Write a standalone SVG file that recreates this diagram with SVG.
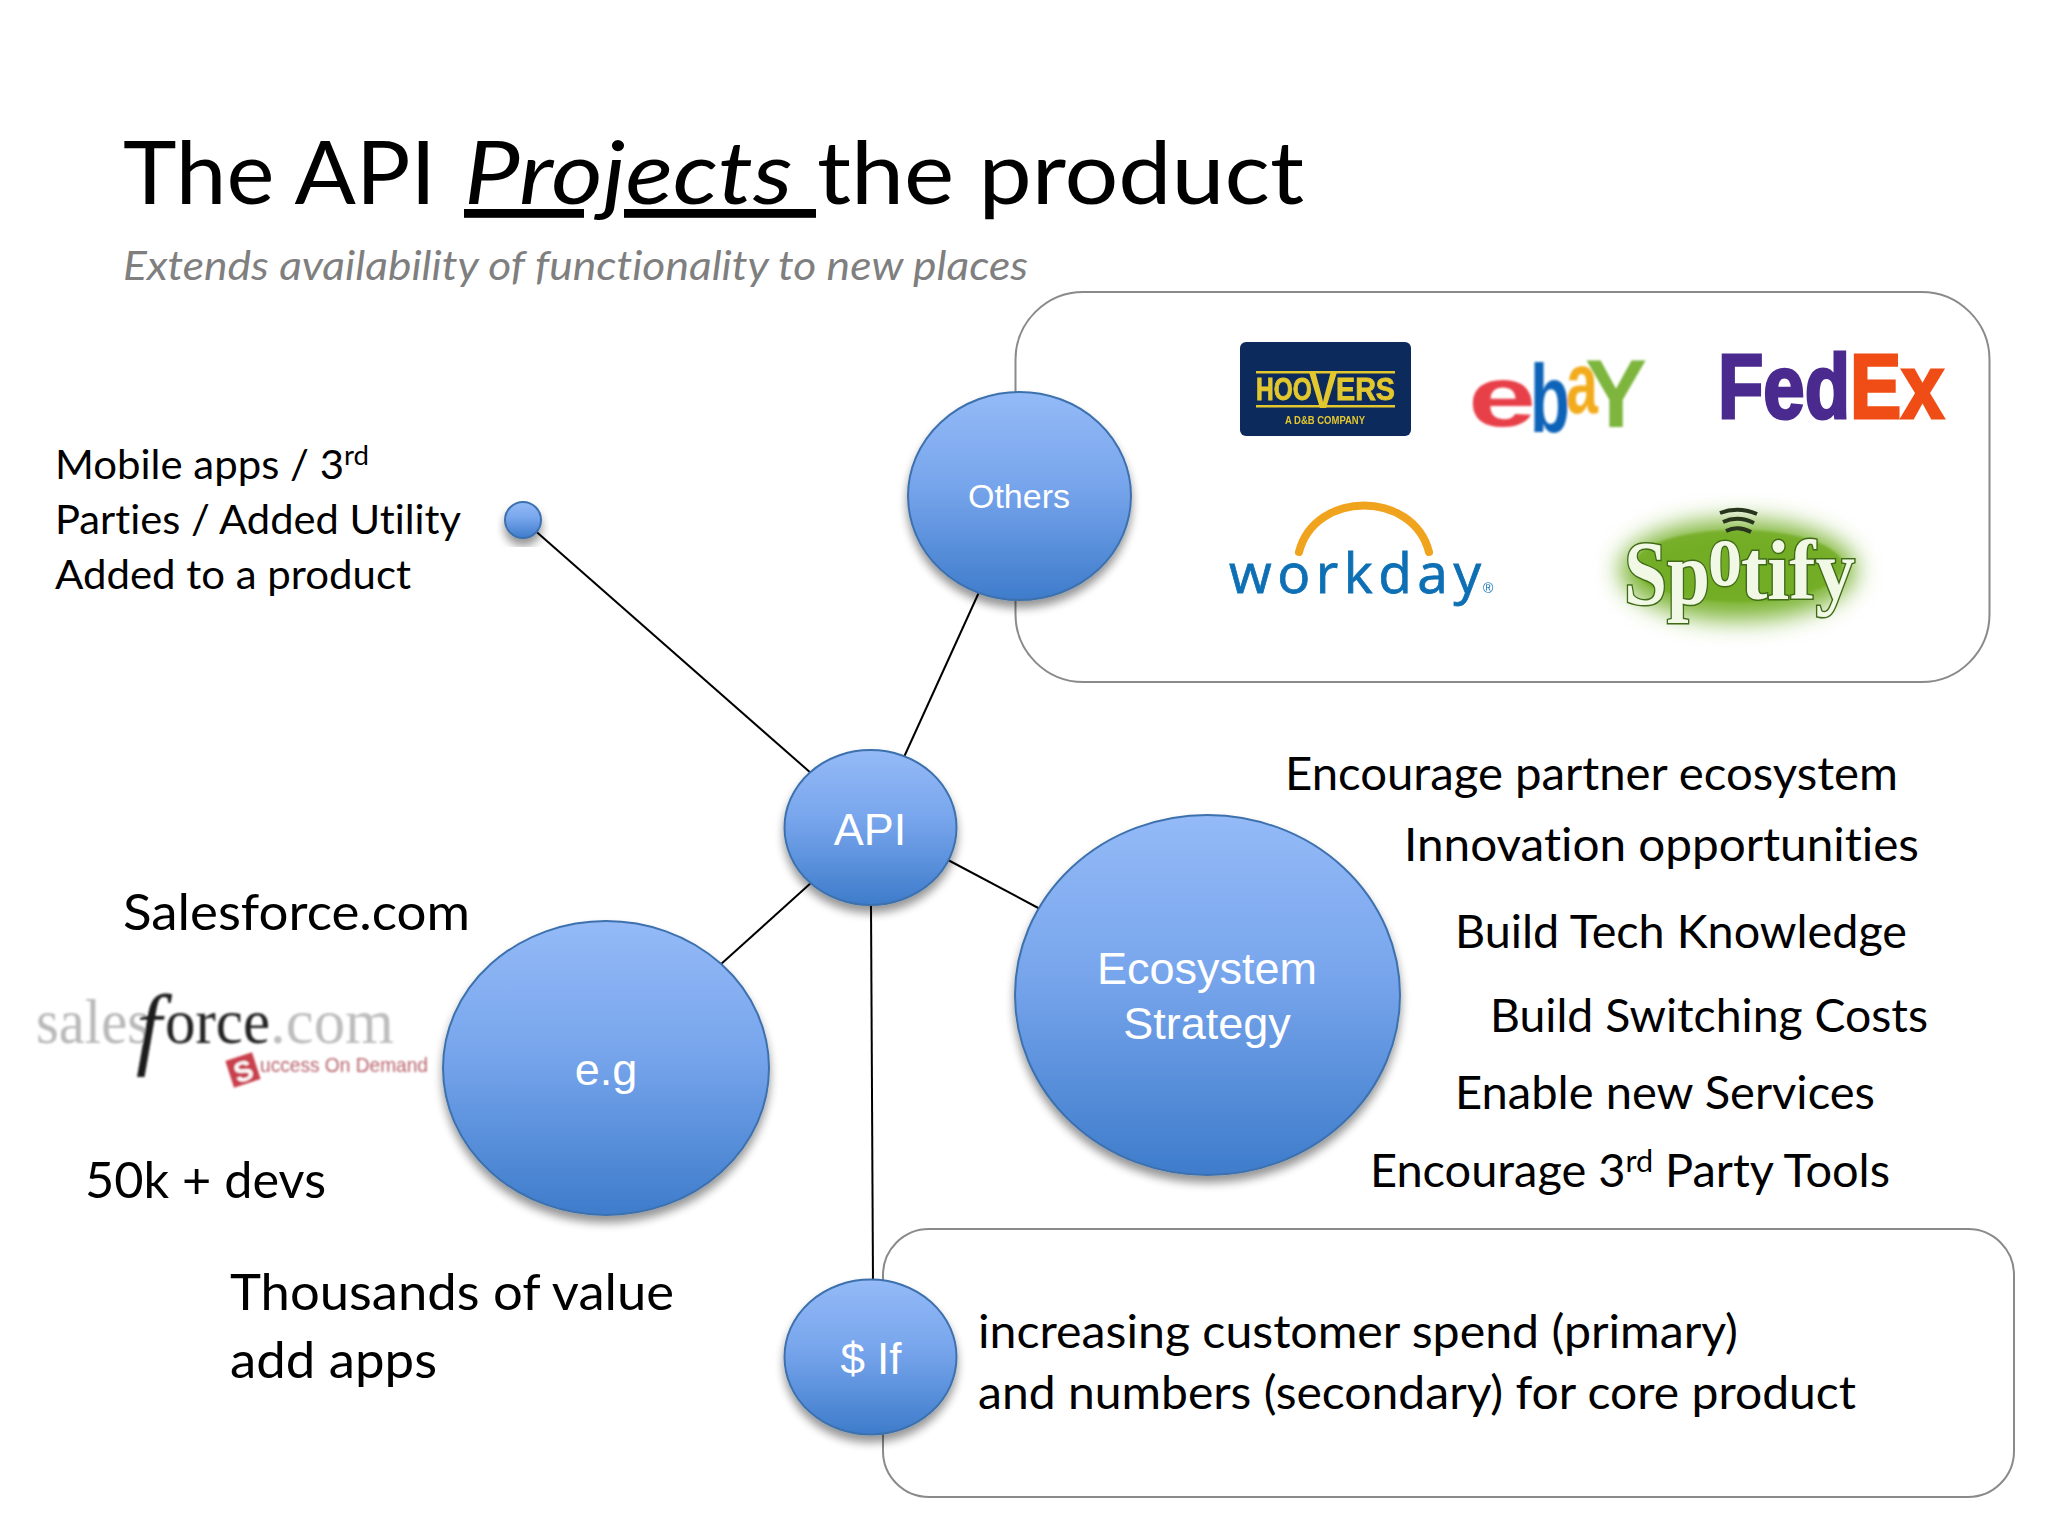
<svg xmlns="http://www.w3.org/2000/svg" width="2048" height="1536" viewBox="0 0 2048 1536">
<defs>
<linearGradient id="ball" x1="0" y1="0" x2="0" y2="1">
<stop offset="0" stop-color="#94baf7"/><stop offset="0.45" stop-color="#77a5ec"/><stop offset="1" stop-color="#3e7ccb"/>
</linearGradient>
<filter id="shadow" x="-20%" y="-20%" width="140%" height="145%">
<feGaussianBlur in="SourceAlpha" stdDeviation="5"/><feOffset dy="7"/>
<feComponentTransfer><feFuncA type="linear" slope="0.42"/></feComponentTransfer>
<feMerge><feMergeNode/><feMergeNode in="SourceGraphic"/></feMerge>
</filter>
<filter id="soft" x="-10%" y="-10%" width="120%" height="120%"><feGaussianBlur stdDeviation="0.8"/></filter>
<filter id="softer" x="-10%" y="-10%" width="120%" height="120%"><feGaussianBlur stdDeviation="0.5"/></filter>
<filter id="glow" x="-30%" y="-50%" width="160%" height="200%"><feGaussianBlur stdDeviation="12"/></filter>
<style>
text{font-family:"Lato","Noto Sans",sans-serif;fill:#000;font-variant-ligatures:none}
.lbl{font-family:"Liberation Sans",Arial,sans-serif;fill:#fff;text-anchor:middle}
.node{fill:url(#ball);stroke:#3d71ad;stroke-width:2;filter:url(#shadow)}
.box{fill:#fff;stroke:#8a8a8a;stroke-width:2}
.conn{stroke:#000;stroke-width:2;fill:none}
.t42{font-size:41px}
.t47{font-size:46px}
.t52{font-size:50px}
.sup{font-size:27px}
.serif{font-family:"Liberation Serif",serif}
.sans{font-family:"Liberation Sans",sans-serif}
.spot{font-family:"Liberation Serif",serif;font-weight:bold;fill:#f1f8e6;stroke:#3f6b17;stroke-width:3;paint-order:stroke}
</style>
</defs>
<rect width="2048" height="1536" fill="#fff"/>

<g id="title" font-size="88">
<text x="123" y="204" textLength="313" lengthAdjust="spacingAndGlyphs">The API</text>
<text x="464" y="204" font-style="italic" text-decoration="underline" textLength="352" lengthAdjust="spacingAndGlyphs" xml:space="preserve">Projects </text>
<text x="817" y="204" textLength="487" lengthAdjust="spacingAndGlyphs">the product</text>
</g>
<text id="subtitle" x="123" y="280" font-size="41" font-style="italic" style="fill:#7f7f7f" textLength="905" lengthAdjust="spacingAndGlyphs">Extends availability of functionality to new places</text>

<rect id="box-logos" class="box" x="1015.500" y="292" width="974" height="390" rx="68"/>
<rect id="box-if" class="box" x="883" y="1229" width="1131" height="268" rx="46"/>

<g id="connectors">
<line class="conn" x1="523" y1="520" x2="812" y2="774"/>
<line class="conn" x1="980" y1="590" x2="904" y2="757"/>
<line class="conn" x1="948" y1="860" x2="1042" y2="910"/>
<line class="conn" x1="812" y1="882" x2="720" y2="965"/>
<line class="conn" x1="871" y1="904" x2="873" y2="1284"/>
</g>

<g id="node-small"><ellipse class="node" cx="523" cy="520" rx="18" ry="18"/></g>
<g id="node-others"><ellipse class="node" cx="1019.500" cy="496" rx="111.500" ry="104"/><text class="lbl" x="1019" y="508" font-size="34">Others</text></g>
<g id="node-api"><ellipse class="node" cx="870.500" cy="827.500" rx="86" ry="77.500"/><text class="lbl" x="870" y="845" font-size="45">API</text></g>
<g id="node-eg"><ellipse class="node" cx="606" cy="1068" rx="163" ry="147"/><text class="lbl" x="606" y="1085" font-size="45">e.g</text></g>
<g id="node-eco"><ellipse class="node" cx="1207.500" cy="995" rx="192.500" ry="180"/><text class="lbl" x="1207" y="984" font-size="45">Ecosystem</text><text class="lbl" x="1207" y="1039" font-size="45">Strategy</text></g>
<g id="node-if"><ellipse class="node" cx="870.500" cy="1357" rx="86" ry="77.500"/><text class="lbl" x="871" y="1374" font-size="44">$ If</text></g>

<g id="text-mobile" class="t42">
<text x="55" y="479" textLength="314" lengthAdjust="spacingAndGlyphs">Mobile apps / 3<tspan class="sup" dy="-14">rd</tspan></text>
<text x="55" y="534" textLength="406" lengthAdjust="spacingAndGlyphs">Parties / Added Utility</text>
<text x="55" y="589" textLength="356" lengthAdjust="spacingAndGlyphs">Added to a product</text>
</g>

<g id="text-benefits" class="t47">
<text x="1285" y="790" textLength="613" lengthAdjust="spacingAndGlyphs">Encourage partner ecosystem</text>
<text x="1404" y="861" textLength="515" lengthAdjust="spacingAndGlyphs">Innovation opportunities</text>
<text x="1455" y="948" textLength="452" lengthAdjust="spacingAndGlyphs">Build Tech Knowledge</text>
<text x="1490" y="1032" textLength="438" lengthAdjust="spacingAndGlyphs">Build Switching Costs</text>
<text x="1455" y="1109" textLength="420" lengthAdjust="spacingAndGlyphs">Enable new Services</text>
<text x="1370" y="1187" textLength="520" lengthAdjust="spacingAndGlyphs">Encourage 3<tspan style="font-size:30px" dy="-15">rd</tspan><tspan dy="15"> Party Tools</tspan></text>
</g>

<g id="text-salesforce" class="t52">
<text x="123" y="930" textLength="347" lengthAdjust="spacingAndGlyphs">Salesforce.com</text>
<text x="85" y="1198" textLength="241" lengthAdjust="spacingAndGlyphs">50k + devs</text>
<text x="230" y="1310" textLength="444" lengthAdjust="spacingAndGlyphs">Thousands of value</text>
<text x="230" y="1378" textLength="207" lengthAdjust="spacingAndGlyphs">add apps</text>
</g>

<g id="text-if" class="t47">
<text x="978" y="1348" textLength="760" lengthAdjust="spacingAndGlyphs">increasing customer spend (primary)</text>
<text x="978" y="1409" textLength="878" lengthAdjust="spacingAndGlyphs">and numbers (secondary) for core product</text>
</g>

<g id="logo-hoovers" filter="url(#softer)">
<rect x="1240" y="342" width="171" height="94" rx="6" fill="#0f2a5c"/>
<g fill="#e3c72e"><rect x="1256" y="371" width="139" height="2.500"/><rect x="1256" y="405" width="139" height="2.500"/></g>
<text x="1256" y="400" font-size="31" class="sans" font-weight="bold" style="fill:#e3c72e;stroke:#e3c72e;stroke-width:.8" textLength="56" lengthAdjust="spacingAndGlyphs">HOO</text>
<text x="1309" y="408" font-size="50" class="sans" font-weight="bold" style="fill:#e3c72e" textLength="28" lengthAdjust="spacingAndGlyphs">V</text>
<text x="1336" y="400" font-size="31" class="sans" font-weight="bold" style="fill:#e3c72e;stroke:#e3c72e;stroke-width:.8" textLength="59" lengthAdjust="spacingAndGlyphs">ERS</text>
<text x="1285" y="424" font-size="11" class="sans" font-weight="bold" style="fill:#e3c72e" textLength="80" lengthAdjust="spacingAndGlyphs">A D&amp;B COMPANY</text>
</g>

<g id="logo-ebay" filter="url(#soft)">
<text x="1468" y="426" font-size="85" class="sans" font-weight="bold" style="fill:#e8404a" textLength="68" lengthAdjust="spacingAndGlyphs">e</text>
<text x="1530" y="432" font-size="96" class="sans" font-weight="bold" style="fill:#0f64b8" textLength="40" lengthAdjust="spacingAndGlyphs">b</text>
<text x="1566" y="413" font-size="88" class="sans" font-weight="bold" style="fill:#f2ab1c" textLength="32" lengthAdjust="spacingAndGlyphs">a</text>
<text x="1585" y="427" font-size="96" class="sans" font-weight="bold" style="fill:#7db53c" textLength="62" lengthAdjust="spacingAndGlyphs">Y</text>
</g>

<g id="logo-fedex" filter="url(#softer)">
<text x="1718" y="418" font-size="90" class="sans" font-weight="bold" style="fill:#4b2a8f;stroke:#4b2a8f;stroke-width:3" textLength="132" lengthAdjust="spacingAndGlyphs">Fed</text>
<text x="1850" y="418" font-size="90" class="sans" font-weight="bold" style="fill:#f04e14;stroke:#f04e14;stroke-width:3" textLength="94" lengthAdjust="spacingAndGlyphs">Ex</text>
</g>

<g id="logo-workday" filter="url(#softer)">
<path d="M1299 552 C1315 490 1413 490 1429 552" fill="none" stroke="#f0a31e" stroke-width="8" stroke-linecap="round"/>
<text x="1229" y="593" font-size="55" style="fill:#0f6fb4;stroke:#0f6fb4;stroke-width:.8;font-family:'Open Sans',sans-serif" textLength="252" lengthAdjust="spacing">workday</text>
<text x="1483" y="593" font-size="14" class="sans" style="fill:#0f6fb4">®</text>
</g>

<g id="logo-spotify">
<ellipse cx="1738" cy="570" rx="118" ry="50" fill="#7ab332" filter="url(#glow)"/>
<ellipse cx="1738" cy="566" rx="105" ry="36" fill="#72ac22" filter="url(#soft)" opacity="0.8"/>
<g fill="none" stroke="#26351a" stroke-width="4" filter="url(#softer)">
<path d="M1720 513 Q1738 506 1757 514"/><path d="M1723 522 Q1738 515 1754 523"/><path d="M1726 531 Q1738 525 1751 532"/>
</g>
<g filter="url(#softer)">
<text x="1624" y="604" font-size="90" class="spot" textLength="86" lengthAdjust="spacingAndGlyphs">Sp</text>
<text x="1708" y="585" font-size="94" class="spot" textLength="34" lengthAdjust="spacingAndGlyphs">o</text>
<text x="1741" y="599" font-size="84" class="spot" textLength="114" lengthAdjust="spacingAndGlyphs">tify</text>
</g>
</g>

<g id="logo-salesforce" filter="url(#soft)">
<text x="36" y="1043" font-size="63" class="serif" style="fill:#b9b9b9" textLength="114" lengthAdjust="spacingAndGlyphs">sales</text>
<text x="136" y="1058" font-size="92" class="serif" font-style="italic" style="fill:#1a1a1a">f</text>
<text x="165" y="1043" font-size="63" class="serif" style="fill:#222" textLength="105" lengthAdjust="spacingAndGlyphs">orce</text>
<text x="270" y="1043" font-size="63" class="serif" style="fill:#bdbdbd" textLength="124" lengthAdjust="spacingAndGlyphs">.com</text>
<g transform="rotate(-18 243 1070)"><rect x="229" y="1056" width="28" height="28" fill="#c9404e"/><text x="243" y="1081" font-size="28" class="sans" font-weight="bold" text-anchor="middle" style="fill:#fff">S</text></g>
<text x="260" y="1072" font-size="21" class="sans" style="fill:#b8636c" textLength="168" lengthAdjust="spacingAndGlyphs">uccess On Demand</text>
</g>
</svg>
